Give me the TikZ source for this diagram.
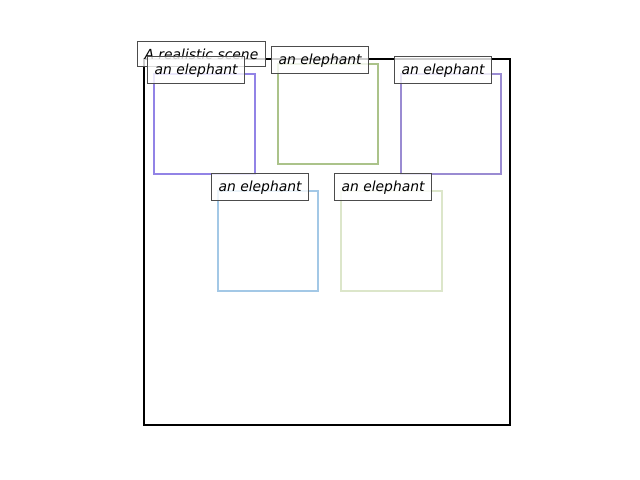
\documentclass[tikz,border=0pt]{standalone}
\usepackage{fontspec}
\setmainfont{DejaVu Sans}
\definecolor{violetA}{HTML}{9283E6}
\definecolor{sageB}{HTML}{ABC38A}
\definecolor{violetC}{HTML}{9A8BD2}
\definecolor{skyD}{HTML}{A3C8E6}
\definecolor{paleE}{HTML}{DCE6CA}
\begin{document}
\begin{tikzpicture}[x=0.72pt, y=-0.72pt,
    tag/.style={anchor=base west, xshift=-5pt, draw=black!70, line width=0.8pt, fill=white, fill opacity=0.8, text opacity=1, inner sep=5pt, font=\itshape},
    beast/.style={line width=2pt}]
    \useasboundingbox (0,0) rectangle (640,480);
    % frame of the scene
    \draw[line width=1.5pt] (144,59) rectangle (510,425);
    \node[tag] (scene) at (144,59) {A realistic scene};
    % the elephants
    \draw[beast, violetA] (154,74) rectangle (255,174);
    \node[tag] (elephantA) at (154,74) {an elephant};
    \draw[beast, sageB] (278,64) rectangle (378,164);
    \node[tag] (elephantB) at (278,64) {an elephant};
    \draw[beast, violetC] (401,74) rectangle (501,174);
    \node[tag] (elephantC) at (401,74) {an elephant};
    \draw[beast, skyD] (218,191) rectangle (318,291);
    \node[tag] (elephantD) at (218,191) {an elephant};
    \draw[beast, paleE] (341,191) rectangle (442,291);
    \node[tag] (elephantE) at (341,191) {an elephant};
\end{tikzpicture}
\end{document}
